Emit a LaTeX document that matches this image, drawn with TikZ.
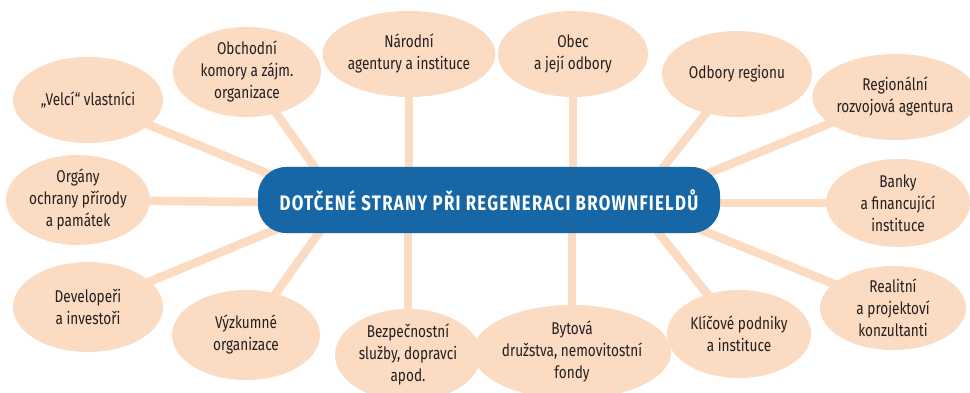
\documentclass[tikz,border=0pt]{standalone}
\usepackage{fontspec}
\setmainfont{Fira Sans}[FakeStretch=0.80]
\newfontfamily\titlefont{Fira Sans}[FakeStretch=0.80,LetterSpace=6,BoldFont={Fira Sans Bold}]
\usetikzlibrary{shapes.geometric,backgrounds}
\definecolor{peach}{HTML}{FBDBC2}
\definecolor{boxblue}{HTML}{1766A6}
\definecolor{ink}{HTML}{231F20}
\tikzset{
  party/.style={ellipse,fill=peach,text=ink,align=center,inner sep=0pt,
    font=\fontsize{17}{22}\selectfont},
  spoke/.style={peach,line width=8.5pt},
  centre/.style={rectangle,rounded corners=28pt,fill=boxblue,text=white,
    minimum width=462pt,minimum height=66pt,font=\titlefont\bfseries\fontsize{21}{26}\selectfont}
}
\begin{document}
\begin{tikzpicture}[x=1pt,y=-1pt]
      \useasboundingbox (0,0) rectangle (970,393);
      \clip (0,0) rectangle (970,393);
      \coordinate (hubL) at (340,203);
      \coordinate (hubR) at (635,203);
      % left side
      \node[party,minimum width=150pt,minimum height=86pt] (velci) at (88,100) {„Velcí“ vlastníci};
      \node[party,minimum width=144pt,minimum height=90pt] (organy) at (78,200) {Orgány\\ochrany přírody\\a památek};
      \node[party,minimum width=150pt,minimum height=90pt] (devel) at (88,307) {Developeři\\a investoři};
      \node[party,minimum width=148pt,minimum height=90pt] (vyzk) at (246,335) {Výzkumné\\organizace};
      \node[party,minimum width=148pt,minimum height=90pt] (obch) at (247,72) {Obchodní\\komory a zájm.\\organizace};
      % top and bottom
      \node[party,minimum width=148pt,minimum height=86pt] (narod) at (409,54) {Národní\\agentury a instituce};
      \node[party,minimum width=150pt,minimum height=86pt] (obec) at (573,54) {Obec\\a její odbory};
      \node[party,minimum width=146pt,minimum height=92pt] (bezp) at (408,355) {Bezpečnostní\\služby, dopravci\\apod.};
      \node[party,minimum width=150pt,minimum height=94pt] (byt) at (572,352) {Bytová\\družstva, nemovitostní\\fondy};
      % right side
      \node[party,minimum width=150pt,minimum height=86pt] (odbory) at (737,74) {Odbory regionu};
      \node[party,minimum width=146pt,minimum height=86pt] (regio) at (895,97) {Regionální\\rozvojová agentura};
      \node[party,minimum width=144pt,minimum height=88pt] (banky) at (898,203) {Banky\\a financující\\instituce};
      \node[party,minimum width=146pt,minimum height=84pt] (real) at (893,308) {Realitní\\a projektoví\\konzultanti};
      \node[party,minimum width=144pt,minimum height=88pt] (klic) at (739,334) {Klíčové podniky\\a instituce};
      % spokes behind the ellipses
      \begin{scope}[on background layer]
      \foreach \n in {velci,organy,devel,vyzk,obch}
        \draw[spoke] (\n.center) -- (hubL);
      \foreach \n in {odbory,regio,banky,real,klic}
        \draw[spoke] (\n.center) -- (hubR);
      \draw[spoke] (narod.center) -- (narod.center |- hubL);
      \draw[spoke] (obec.center) -- (obec.center |- hubL);
      \draw[spoke] (bezp.center) -- (bezp.center |- hubL);
      \draw[spoke] (byt.center) -- (byt.center |- hubL);
      \end{scope}
      \node[centre] (box) at (489,200) {DOTČENÉ STRANY PŘI REGENERACI BROWNFIELDŮ};
\end{tikzpicture}
\end{document}
